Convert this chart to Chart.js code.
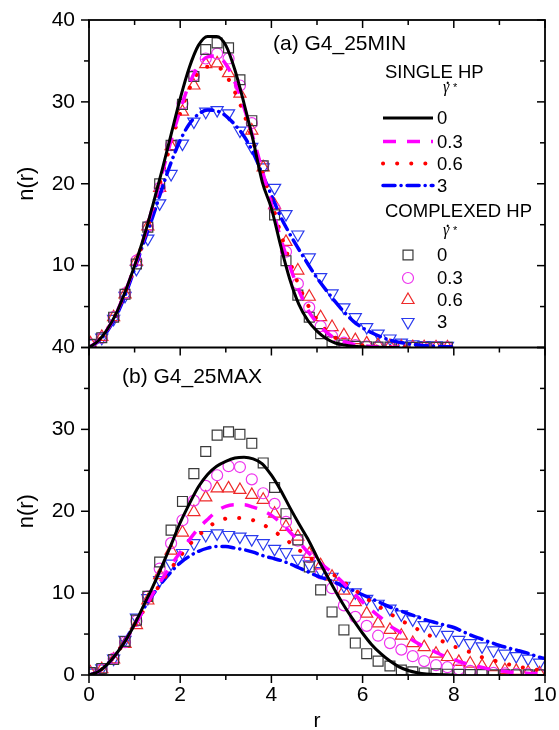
<!DOCTYPE html>
<html>
<head>
<meta charset="utf-8">
<script src="https://cdn.jsdelivr.net/npm/chart.js@4.4.1/dist/chart.umd.min.js"></script>
<style>
  html, body { margin: 0; padding: 0; background: #fff; }
  #nr { display: block; }
</style>
</head>
<body>
<canvas id="nr" width="559" height="730"></canvas>
<script>
// r values of the continuous curves (single HP)
const rLine = [0, 0.2, 0.4, 0.6, 0.8, 1.0, 1.2, 1.4, 1.6, 1.8, 2.0, 2.2, 2.4, 2.6, 2.8, 3.0, 3.2, 3.4, 3.6, 3.8,
  4.0, 4.2, 4.4, 4.6, 4.8, 5.0, 5.2, 5.4, 5.6, 5.8, 6.0, 6.2, 6.4, 6.6, 6.8, 7.0, 7.2, 7.4, 7.6, 7.8,
  8.0, 8.2, 8.4, 8.6, 8.8, 9.0, 9.2, 9.4, 9.6, 9.8, 10.0];

// r values of the open symbols (complexed HP)
const rSym = [0.03, 0.28, 0.54, 0.79, 1.04, 1.29, 1.55, 1.80, 2.05, 2.30, 2.56, 2.81, 3.06, 3.31, 3.57, 3.82,
  4.07, 4.32, 4.58, 4.83, 5.08, 5.33, 5.59, 5.84, 6.09, 6.34, 6.60, 6.85, 7.10, 7.35, 7.61, 7.86,
  8.11, 8.36, 8.62, 8.87, 9.12, 9.37, 9.63, 9.88];

// (a) G4_25MIN - single HP
const aLine0 = [0, 0.8, 2.2, 4.2, 6.9, 10.0, 13.4, 17.4, 21.6, 26.0, 30.4, 34.2, 36.9, 38.0, 38.0, 36.9, 33.9, 29.8, 25.3, 20.2,
  17.0, 12.5, 8.4, 5.3, 3.3, 2.0, 1.1, 0.55, 0.3, 0.15, 0.08, 0.04, 0.02, 0.01, 0];
const aLine03 = [0, 0.8, 2.2, 4.2, 6.9, 9.9, 13.3, 17.2, 21.2, 25.3, 29.0, 32.2, 34.4, 35.5, 35.6, 34.6, 32.4, 29.3, 25.6, 21.6,
  17.5, 13.4, 10.0, 7.0, 4.6, 3.0, 1.9, 1.1, 0.7, 0.4, 0.22, 0.12, 0.06, 0.03, 0.01];
const aLine06 = [0, 0.8, 2.2, 4.2, 6.8, 9.8, 13.2, 17.0, 21.0, 25.0, 28.6, 31.6, 33.6, 34.3, 34.3, 33.3, 31.2, 28.5, 25.1, 21.4,
  17.8, 14.0, 10.6, 7.6, 5.2, 3.4, 2.1, 1.2, 0.7, 0.4, 0.25, 0.15, 0.1, 0.06, 0.03, 0.01];
const aLine3 = [0, 0.7, 2.0, 3.9, 6.5, 9.6, 12.8, 16.0, 19.4, 22.6, 25.3, 27.3, 28.5, 29.0, 28.9, 28.3, 27.2, 25.8, 23.8, 21.2,
  18.6, 16.0, 13.9, 12.0, 10.2, 8.5, 7.0, 5.6, 4.3, 3.2, 2.4, 1.8, 1.3, 0.9, 0.65, 0.45, 0.32, 0.22, 0.16, 0.1, 0.07];

// (a) G4_25MIN - complexed HP
const aSym0 = [0.4, 1.2, 3.7, 6.5, 10.2, 14.7, 20.0, 24.7, 29.7, 33.1, 36.4, 37.2, 36.6, 32.7, 27.7, 22.2,
  16.2, 10.6, 6.4, 3.7, 1.7, 0.7, 0.3, 0.15, 0.1, 0.05, 0.05, 0.02, 0.02, 0.01, 0.01, 0.01];
const aSym03 = [0.4, 1.2, 3.7, 6.6, 10.6, 14.8, 19.5, 24.7, 29.8, 33.2, 35.3, 35.9, 35.3, 32.0, 27.4, 22.2,
  17.0, 11.7, 7.8, 4.9, 2.6, 1.4, 0.6, 0.3, 0.15, 0.08, 0.05, 0.03, 0.02, 0.01, 0.01, 0.01];
const aSym06 = [0.5, 1.3, 3.7, 6.5, 10.5, 14.8, 19.5, 24.6, 28.8, 32.0, 34.6, 34.7, 33.5, 31.0, 26.5, 22.0,
  17.4, 12.9, 9.4, 6.2, 3.7, 2.5, 1.5, 0.9, 0.5, 0.3, 0.2, 0.1, 0.05, 0.03, 0.02, 0.01];
const aSym3 = [0.5, 1.2, 3.5, 6.3, 9.6, 13.3, 17.6, 21.2, 24.9, 27.6, 28.8, 29.0, 28.6, 26.5, 24.5, 22.0,
  19.5, 16.3, 13.8, 11.0, 8.6, 6.6, 4.9, 3.7, 2.5, 1.7, 1.1, 0.6, 0.4, 0.3, 0.25, 0.2];

// (b) G4_25MAX - single HP
const bLine0 = [0, 0.4, 1.3, 2.6, 4.2, 6.2, 8.5, 10.8, 13.3, 15.9, 18.6, 20.9, 23.0, 24.5, 25.5, 26.1, 26.5, 26.6, 26.4, 25.8,
  24.4, 22.6, 20.5, 18.5, 16.6, 14.4, 12.3, 10.3, 8.4, 6.7, 5.1, 3.7, 2.6, 1.7, 1.0, 0.55, 0.28, 0.12, 0.05, 0.02, 0];
const bLine03 = [0, 0.4, 1.3, 2.6, 4.2, 6.0, 8.0, 9.9, 11.7, 13.4, 15.0, 16.5, 17.9, 19.0, 20.0, 20.6, 20.8, 20.8, 20.5, 20.1,
  19.5, 18.6, 17.5, 16.3, 15.0, 14.0, 13.1, 12.2, 11.1, 10.0, 8.9, 7.9, 7.0, 6.0, 5.3, 4.6, 3.9, 3.3, 2.8, 2.3,
  1.9, 1.5, 1.2, 0.95, 0.7, 0.5, 0.38, 0.3, 0.22, 0.18, 0.15];
const bLine06 = [0, 0.4, 1.3, 2.6, 4.2, 6.0, 7.9, 9.7, 11.4, 13.0, 14.5, 15.9, 17.0, 18.0, 18.7, 19.1, 19.2, 19.1, 18.9, 18.4,
  17.8, 17.0, 16.2, 15.3, 14.5, 13.7, 12.9, 12.1, 11.3, 10.5, 9.7, 8.9, 8.2, 7.5, 6.8, 6.2, 5.6, 5.0, 4.5, 4.0,
  3.5, 3.1, 2.7, 2.2, 1.9, 1.6, 1.3, 1.0, 0.85, 0.65, 0.5];
const bLine3 = [0, 0.4, 1.3, 2.6, 4.3, 6.2, 8.1, 9.8, 11.3, 12.6, 13.7, 14.5, 15.1, 15.5, 15.7, 15.7, 15.5, 15.3, 15.0, 14.6,
  14.3, 14.0, 13.6, 13.1, 12.6, 12.1, 11.7, 11.3, 10.8, 10.3, 9.8, 9.3, 8.8, 8.3, 7.9, 7.5, 7.1, 6.7, 6.4, 6.1,
  5.8, 5.3, 4.8, 4.4, 4.0, 3.6, 3.3, 3.0, 2.7, 2.3, 2.0];

// (b) G4_25MAX - complexed HP
const bSym0 = [0.3, 0.8, 1.9, 4.1, 6.7, 9.6, 13.8, 17.7, 21.2, 24.6, 27.3, 29.3, 29.7, 29.4, 28.3, 25.9,
  22.9, 19.7, 16.5, 13.2, 10.4, 7.7, 5.5, 3.9, 2.6, 1.7, 1.1, 0.6, 0.4, 0.25, 0.15, 0.1,
  0.08, 0.05, 0.04, 0.03, 0.02, 0.02, 0.01, 0.01];
const bSym03 = [0.3, 0.7, 2.0, 4.0, 6.6, 9.6, 13.0, 16.1, 18.9, 21.3, 23.1, 24.4, 25.5, 25.4, 23.9, 22.2,
  20.9, 18.7, 16.4, 14.4, 12.4, 10.6, 8.5, 7.1, 6.0, 4.8, 3.9, 3.1, 2.3, 1.7, 1.2, 0.95,
  0.7, 0.5, 0.35, 0.25, 0.2, 0.15, 0.1, 0.08];
const bSym06 = [0.3, 0.7, 1.9, 3.8, 6.1, 9.1, 12.2, 15.2, 17.4, 19.9, 21.7, 22.8, 22.8, 22.6, 22.0, 21.4,
  19.7, 18.1, 16.9, 14.8, 13.4, 12.0, 10.3, 8.9, 7.5, 6.3, 5.5, 4.8, 3.9, 3.4, 2.6, 2.2,
  1.6, 1.4, 1.1, 0.95, 0.6, 0.5, 0.3, 0.2];
const bSym3 = [0.3, 0.8, 2.0, 4.3, 7.0, 9.4, 11.6, 13.6, 14.9, 16.1, 17.1, 17.3, 17.1, 16.9, 16.6, 16.1,
  15.4, 15.0, 14.2, 13.5, 12.7, 12.0, 10.9, 10.1, 9.3, 8.7, 8.1, 7.4, 6.8, 6.1, 5.5, 4.9,
  4.3, 3.9, 3.5, 3.0, 2.6, 2.3, 2.0, 1.5];

const shearRates = ['0', '0.3', '0.6', '3'];

const FONT = '"Liberation Sans", Arial, Helvetica, sans-serif';
const SERIF = '"Liberation Serif", "DejaVu Serif", serif';

// styles
const lineStyles = [
  { color: '#000000', width: 3, dash: [], cap: 'butt' },
  { color: '#ff00ff', width: 3.5, dash: [13, 11], cap: 'butt' },
  { color: '#ff0000', width: 4, dash: [0.1, 14], cap: 'round' },
  { color: '#0000ff', width: 3.5, dash: [12, 6, 0.1, 6], cap: 'round' }
];
const symStyles = [
  { color: '#3a3a3a', shape: 'rect', rot: 0, radius: 7 },
  { color: '#ee33ee', shape: 'circle', rot: 0, radius: 5.5 },
  { color: '#ee2a2a', shape: 'triangle', rot: 0, radius: 7 },
  { color: '#2a3aee', shape: 'triangle', rot: 180, radius: 7 }
];

function pts(xs, ys) {
  return ys.map((y, i) => ({ x: xs[i], y: y }));
}

function lineSet(ys, st, axis) {
  return {
    data: pts(rLine, ys),
    yAxisID: axis,
    borderColor: st.color,
    borderWidth: st.width,
    borderDash: st.dash,
    borderCapStyle: st.cap,
    cubicInterpolationMode: 'monotone',
    pointRadius: 0,
    fill: false
  };
}

function symSet(ys, st, axis) {
  return {
    data: pts(rSym, ys),
    yAxisID: axis,
    showLine: false,
    borderColor: st.color,
    pointStyle: st.shape,
    pointRotation: st.rot,
    pointRadius: st.radius,
    pointBorderWidth: 1.2,
    pointBorderColor: st.color,
    pointBackgroundColor: 'rgba(0,0,0,0)'
  };
}

const aLines = [aLine0, aLine03, aLine06, aLine3];
const aSyms = [aSym0, aSym03, aSym06, aSym3];
const bLines = [bLine0, bLine03, bLine06, bLine3];
const bSyms = [bSym0, bSym03, bSym06, bSym3];

// lines first so they are painted over the symbols
const datasets = [];
aLines.forEach((d, i) => datasets.push(lineSet(d, lineStyles[i], 'yA')));
bLines.forEach((d, i) => datasets.push(lineSet(d, lineStyles[i], 'yB')));
aSyms.forEach((d, i) => datasets.push(symSet(d, symStyles[i], 'yA')));
bSyms.forEach((d, i) => datasets.push(symSet(d, symStyles[i], 'yB')));

// each panel only shows its own data
const panelClip = {
  id: 'panelClip',
  beforeDatasetDraw(chart, args) {
    const ys = args.meta.yScale, a = chart.chartArea, ctx = chart.ctx;
    ctx.save();
    ctx.beginPath();
    ctx.rect(a.left, ys.top, a.right - a.left, ys.bottom - ys.top);
    ctx.clip();
  },
  afterDatasetDraw(chart) {
    chart.ctx.restore();
  }
};

function drawSymbol(ctx, st, x, y) {
  const r = st.radius;
  ctx.beginPath();
  if (st.shape === 'rect') {
    const s = r * Math.SQRT1_2;
    ctx.rect(x - s, y - s, 2 * s, 2 * s);
  } else if (st.shape === 'circle') {
    ctx.arc(x, y, r, 0, Math.PI * 2);
  } else {
    const sgn = st.rot ? -1 : 1;
    ctx.moveTo(x, y - sgn * r);
    ctx.lineTo(x + r * 0.866, y + sgn * r / 2);
    ctx.lineTo(x - r * 0.866, y + sgn * r / 2);
    ctx.closePath();
  }
  ctx.strokeStyle = st.color;
  ctx.lineWidth = 1.2;
  ctx.stroke();
}

// shear rate symbol: gamma with a dot, starred
function drawGammaDot(ctx, x, y) {
  ctx.textAlign = 'left';
  ctx.textBaseline = 'alphabetic';
  ctx.font = 'italic 16px ' + SERIF;
  ctx.fillText('\u03B3', x, y);
  ctx.font = 'bold 14px ' + SERIF;
  ctx.fillText('.', x + 3, y - 8);
  ctx.font = '11px ' + FONT;
  ctx.fillText('*', x + 10, y - 1);
}

const frame = {
  id: 'frame',
  afterDatasetsDraw(chart) {
    const { ctx, chartArea: a, scales } = chart;
    const xs = scales.x, yA = scales.yA, yB = scales.yB;
    const seg = (x1, y1, x2, y2) => { ctx.beginPath(); ctx.moveTo(x1, y1); ctx.lineTo(x2, y2); ctx.stroke(); };

    ctx.save();
    ctx.strokeStyle = '#000';
    ctx.lineWidth = 1.8;
    ctx.strokeRect(a.left, a.top, a.right - a.left, a.bottom - a.top);
    seg(a.left, yA.bottom, a.right, yA.bottom);

    ctx.lineWidth = 1.5;
    for (let v = 0; v <= 10; v++) {
      const px = xs.getPixelForValue(v), len = v % 2 ? 5 : 8;
      seg(px, a.bottom, px, a.bottom + len);
      seg(px, a.top, px, a.top + len);
      seg(px, yB.top, px, yB.top + len);
    }
    [yA, yB].forEach(s => {
      for (let v = 0; v <= 40; v += 5) {
        const py = s.getPixelForValue(v), len = v % 10 ? 5 : 8;
        seg(a.left - len, py, a.left, py);
        seg(a.right - len, py, a.right, py);
      }
    });

    // axis titles
    ctx.fillStyle = '#000';
    ctx.font = '22px ' + FONT;
    ctx.textAlign = 'center';
    ctx.textBaseline = 'middle';
    [yA, yB].forEach(s => {
      ctx.save();
      ctx.translate(27, (s.top + s.bottom) / 2);
      ctx.rotate(-Math.PI / 2);
      ctx.fillText('n(r)', 0, 0);
      ctx.restore();
    });
    ctx.font = '21px ' + FONT;
    ctx.textBaseline = 'alphabetic';
    ctx.fillText('r', (a.left + a.right) / 2, 727);

    // panel labels
    ctx.textAlign = 'left';
    ctx.fillText('(a) G4_25MIN', 273, 50);
    ctx.fillText('(b) G4_25MAX', 122, 383);

    // legend
    ctx.font = '18.5px ' + FONT;
    ctx.fillText('SINGLE HP', 385, 78);
    drawGammaDot(ctx, 443, 92);
    const lineRows = [118, 141.5, 163.5, 185.5];
    lineStyles.forEach((st, i) => {
      ctx.save();
      ctx.strokeStyle = st.color;
      ctx.lineWidth = st.width;
      ctx.lineCap = st.cap;
      ctx.setLineDash(st.dash);
      seg(383, lineRows[i], 433, lineRows[i]);
      ctx.restore();
      ctx.font = '18.5px ' + FONT;
      ctx.textBaseline = 'middle';
      ctx.fillText(shearRates[i], 437, lineRows[i] + 1);
      ctx.textBaseline = 'alphabetic';
    });
    ctx.font = '18.5px ' + FONT;
    ctx.fillText('COMPLEXED HP', 385, 217);
    drawGammaDot(ctx, 443, 235);
    const symRows = [255, 278, 300, 322];
    symStyles.forEach((st, i) => {
      drawSymbol(ctx, st, 408, symRows[i]);
      ctx.fillStyle = '#000';
      ctx.font = '18.5px ' + FONT;
      ctx.textBaseline = 'middle';
      ctx.fillText(shearRates[i], 437, symRows[i] + 1);
      ctx.textBaseline = 'alphabetic';
    });
    ctx.restore();
  }
};

const tickFont = { family: FONT, size: 21 };

new Chart(document.getElementById('nr'), {
  type: 'line',
  data: { datasets: datasets },
  options: {
    responsive: false,
    animation: false,
    devicePixelRatio: 1,
    layout: { padding: { top: 20, right: 14, left: 0, bottom: 0 } },
    plugins: { legend: { display: false }, tooltip: { enabled: false } },
    scales: {
      x: {
        type: 'linear', position: 'bottom', min: 0, max: 10,
        ticks: { stepSize: 2, font: tickFont, color: '#000', padding: 0, maxRotation: 0 },
        grid: { drawOnChartArea: false, tickLength: 8, tickColor: 'rgba(0,0,0,0)' },
        border: { display: false },
        afterFit: s => { s.height = 55; }
      },
      yB: {
        type: 'linear', position: 'left', stack: 'panels', stackWeight: 1, min: 0, max: 40,
        ticks: { stepSize: 10, font: tickFont, color: '#000', padding: 6 },
        grid: { drawOnChartArea: false, tickLength: 8, tickColor: 'rgba(0,0,0,0)' },
        border: { display: false },
        afterFit: s => { s.width = 89; }
      },
      yA: {
        type: 'linear', position: 'left', stack: 'panels', stackWeight: 1, min: 0, max: 40,
        ticks: { stepSize: 10, font: tickFont, color: '#000', padding: 6,
          callback: v => (v === 0 ? '' : v) },
        grid: { drawOnChartArea: false, tickLength: 8, tickColor: 'rgba(0,0,0,0)' },
        border: { display: false },
        afterFit: s => { s.width = 89; }
      }
    }
  },
  plugins: [panelClip, frame]
});
</script>
</body>
</html>
